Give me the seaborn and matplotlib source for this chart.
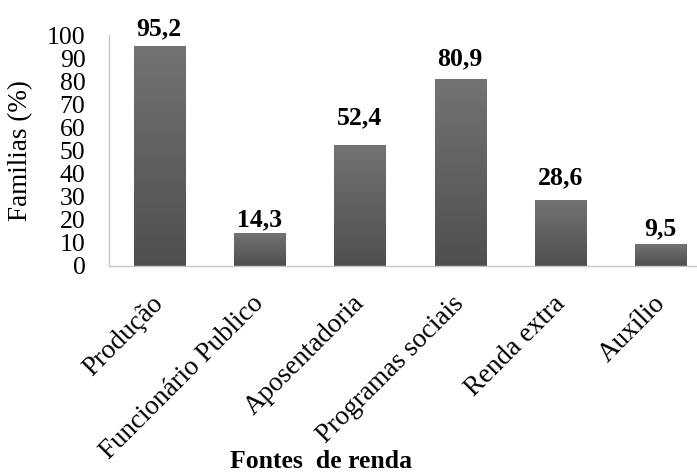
import numpy as np
import pandas as pd
import matplotlib
matplotlib.use("Agg")
import matplotlib.pyplot as plt
import matplotlib.transforms as mtransforms
import seaborn as sns
from matplotlib.colors import LinearSegmentedColormap

categorias = ["Produção", "Funcionário Publico", "Aposentadoria",
              "Programas sociais", "Renda extra", "Auxílio"]
percentuais = [95.2, 14.3, 52.4, 80.9, 28.6, 9.5]
rotulos = ["95,2", "14,3", "52,4", "80,9", "28,6", "9,5"]
yticks = list(range(0, 101, 10))

# gap (points) between each bar top and its value label
desloc_rotulo = [8, 5, 15, 10, 11, 6.5]

sns.set_theme(style="white")
plt.rcParams["font.family"] = ["Liberation Serif", "DejaVu Serif"]

W, H = 697, 472
fig = plt.figure(figsize=(W / 100, H / 100), dpi=100)
# axes run slightly past the right edge of the canvas
left, right, top, bottom = 109, 711, 35, 266
ax = fig.add_axes([left / W, 1 - bottom / H, (right - left) / W, (bottom - top) / H])

df = pd.DataFrame({"fonte": categorias, "pct": percentuais})
sns.barplot(data=df, x="fonte", y="pct", color="#616161", width=0.51,
            saturation=1, ax=ax, edgecolor="#9a9a9a", linewidth=0.6)

# vertical grey gradient inside each bar
cmap = LinearSegmentedColormap.from_list("g", ["#4f4f4f", "#737373"])
grad = np.linspace(0, 1, 256).reshape(-1, 1)
for p in ax.patches:
    x0, y0 = p.get_x(), p.get_y()
    w, h = p.get_width(), p.get_height()
    im = ax.imshow(grad, cmap=cmap, origin="lower", aspect="auto",
                   extent=(x0, x0 + w, y0, y0 + h), zorder=p.get_zorder() + 0.1)
    im.set_clip_path(p)
ax.set_xlim(-0.5, len(categorias) - 0.5)
ax.set_ylim(0, 100)

for i, (v, t, d) in enumerate(zip(percentuais, rotulos, desloc_rotulo)):
    ax.annotate(t, (i, v), xytext=(0, d), textcoords="offset points",
                ha="center", va="baseline", fontsize=18.5,
                fontweight="bold", color="black")

ax.set_yticks(yticks)
ax.set_yticklabels([str(t) for t in yticks], fontsize=18.5, color="black")
ax.tick_params(axis="y", length=0, pad=17)
ax.tick_params(axis="x", length=0, pad=18)
ax.set_xticks(range(len(categorias)))
ax.set_xticklabels(categorias, rotation=45, ha="right", va="top",
                   rotation_mode="anchor", fontsize=19.5, color="black")
shift = mtransforms.ScaledTranslation(-6 / 72, 0, fig.dpi_scale_trans)
for lab in ax.get_xticklabels():
    lab.set_transform(lab.get_transform() + shift)

ax.set_xlabel("")
ax.set_ylabel("Familias (%)", fontsize=19.5, color="black", va="center")
ax.yaxis.set_label_coords((21 - left) / (right - left), 0.5)

for s in ["top", "right"]:
    ax.spines[s].set_visible(False)
for s in ["left", "bottom"]:
    ax.spines[s].set_color("#c8c8c8")
    ax.spines[s].set_linewidth(1)

fig.text(321 / W, 1 - 462 / H, "Fontes  de renda", ha="center", va="center",
         fontsize=18.5, fontweight="bold", color="black")

fig.savefig("out.png", dpi=100, facecolor="white")
